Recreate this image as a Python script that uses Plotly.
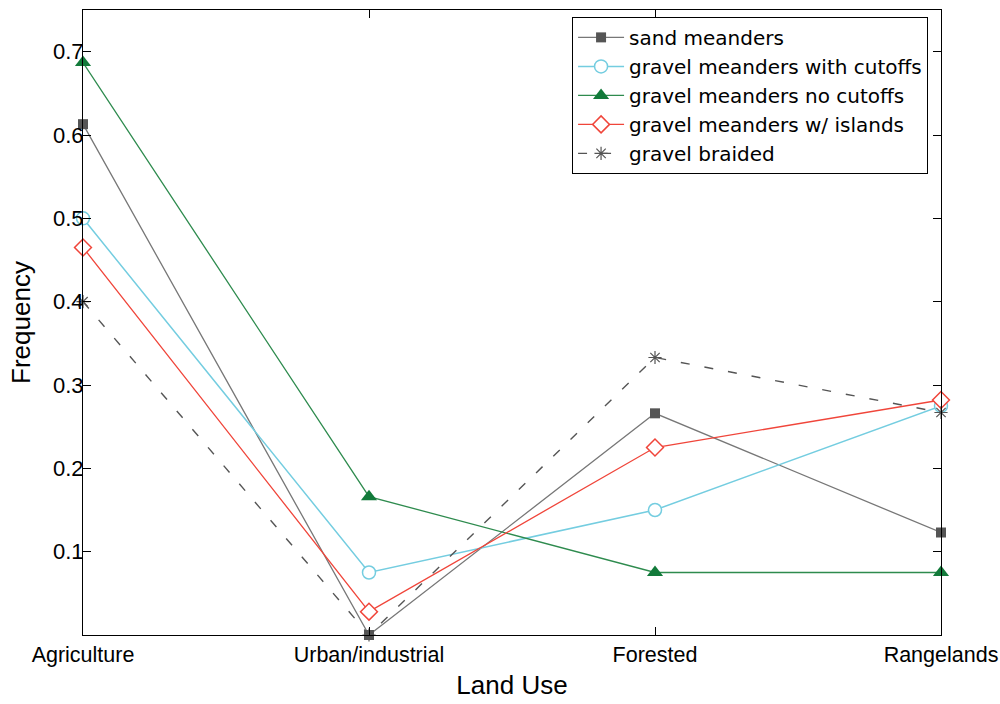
import plotly.graph_objects as go

# Land-use categories on the x axis
land_use = ["Agriculture", "Urban/industrial", "Forested", "Rangelands"]

# Frequency of each land-use class per river type
sand_meanders = [0.613, 0.0, 0.266, 0.123]
gravel_cutoffs = [0.500, 0.075, 0.150, 0.275]
gravel_no_cutoffs = [0.687, 0.166, 0.075, 0.075]
gravel_islands = [0.465, 0.028, 0.225, 0.282]
gravel_braided = [0.400, 0.0, 0.333, 0.267]

y_ticks = [0.1, 0.2, 0.3, 0.4, 0.5, 0.6, 0.7]

series = [
    dict(name="sand meanders", y=sand_meanders, line=dict(color="#777777", width=1.3),
         marker=dict(symbol="square", size=10, color="#555555", line=dict(width=0))),
    dict(name="gravel meanders with cutoffs", y=gravel_cutoffs, line=dict(color="#74cde0", width=1.5),
         marker=dict(symbol="circle", size=13, color="white", line=dict(color="#74cde0", width=1.5))),
    dict(name="gravel meanders no cutoffs", y=gravel_no_cutoffs, line=dict(color="#2e8b4e", width=1.3),
         marker=dict(symbol="triangle-up", size=14, color="#127a3a", line=dict(width=0))),
    dict(name="gravel meanders w/ islands", y=gravel_islands, line=dict(color="#f0453a", width=1.3),
         marker=dict(symbol="diamond", size=13, color="white", line=dict(color="#f0453a", width=1.5))),
    dict(name="gravel braided", y=gravel_braided, line=dict(color="#555555", width=1.4, dash="9px,15px"),
         marker=dict(symbol="asterisk-open", size=11, color="#555555", line=dict(color="#555555", width=1.2))),
]

fig = go.Figure()
for s in series:
    fig.add_trace(go.Scatter(
        x=land_use, y=s["y"], name=s["name"], mode="lines+markers",
        line=s["line"], marker=s["marker"], cliponaxis=False,
    ))

fig.update_layout(
    width=1000, height=704,
    margin=dict(l=83, r=59, t=10, b=69, autoexpand=False),
    paper_bgcolor="white", plot_bgcolor="white",
    font=dict(family="Liberation Sans, Arial, sans-serif", size=22, color="black"),
    legend=dict(
        x=0.570, y=0.989, xanchor="left", yanchor="top",
        bordercolor="black", borderwidth=1, bgcolor="white",
        font=dict(family="DejaVu Sans, sans-serif", size=20),
        tracegroupgap=0, itemwidth=46,
    ),
    xaxis=dict(
        type="category", range=[0, 3], showgrid=False, zeroline=False,
        showline=True, linecolor="black", linewidth=1, mirror="ticks",
        ticks="inside", ticklen=8, tickcolor="black", automargin=False,
        tickfont=dict(size=21.5),
        title=dict(text="Land Use", font=dict(size=26), standoff=10),
    ),
    yaxis=dict(
        range=[0, 0.75], tickvals=y_ticks, ticktext=[f"{v:.1f}" for v in y_ticks],
        showgrid=False, zeroline=False,
        showline=True, linecolor="black", linewidth=1, mirror="ticks",
        ticks="inside", ticklen=8, tickcolor="black", automargin=False,
        ticklabelstandoff=-6,
        title=dict(text="Frequency", font=dict(size=26), standoff=14),
    ),
)

fig.write_html("out.html")
